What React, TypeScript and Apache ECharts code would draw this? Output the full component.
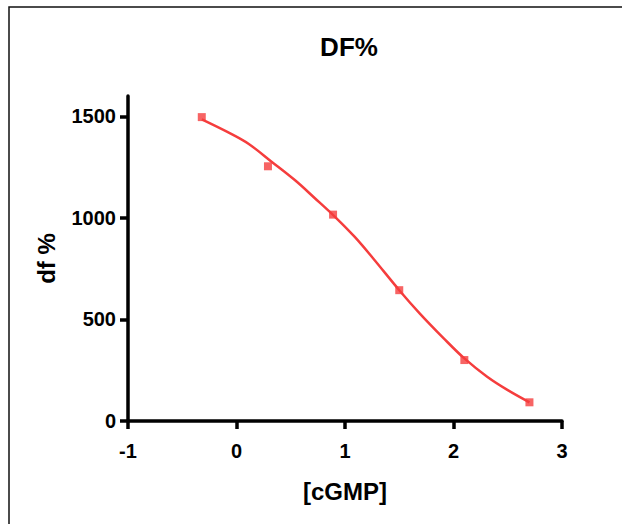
import React, { useEffect, useRef } from "react";
import * as echarts from "echarts";

// Measured data points: log[cGMP] vs df %
const pointX = [-0.32, 0.29, 0.89, 1.5, 2.1, 2.7];
const pointY = [1496, 1254, 1016, 644, 300, 92];

// Fitted curve
const curveX = [-0.32, -0.08, 0.11, 0.32, 0.54, 0.72, 0.91, 1.09, 1.26, 1.5, 1.69, 1.91, 2.1, 2.31, 2.5, 2.7];
const curveY = [1485, 1422, 1365, 1278, 1185, 1098, 1004, 906, 800, 644, 529, 407, 308, 218, 152, 92];

const yTicks = [0, 500, 1000, 1500];
const xTicks = [-1, 0, 1, 2, 3];

const RED = "#F53D3D";
const FONT = "Liberation Sans, Arial, sans-serif";

export default function App() {
  const ref = useRef<HTMLDivElement>(null);
  useEffect(() => {
    if (!ref.current) return;
    const chart = echarts.init(ref.current, undefined, { renderer: "svg" });
    const lineStyle = { color: "#000", width: 3.5 };
    chart.setOption({
      animation: false,
      backgroundColor: "#fff",
      title: {
        text: "DF%",
        left: 344,
        top: 29,
        textAlign: "center",
        textStyle: { fontFamily: FONT, fontWeight: "bold", fontSize: 26, color: "#000" },
      },
      grid: { left: 128, right: 60, top: 96, bottom: 103, containLabel: false },
      xAxis: {
        type: "value",
        min: -1,
        max: 3,
        interval: 1,
        splitLine: { show: false },
        axisLine: { show: true, onZero: false, lineStyle },
        axisTick: { show: true, length: 8, lineStyle, customValues: xTicks },
        axisLabel: {
          margin: 20,
          fontFamily: FONT,
          fontWeight: "bold",
          fontSize: 20,
          color: "#000",
          customValues: xTicks,
          formatter: (v: number) => String(v),
        },
        name: "[cGMP]",
        nameLocation: "middle",
        nameGap: 58,
        nameTextStyle: { fontFamily: FONT, fontWeight: "bold", fontSize: 24, color: "#000" },
      },
      yAxis: {
        type: "value",
        min: 0,
        max: 1600,
        interval: 500,
        splitLine: { show: false },
        axisLine: { show: true, onZero: false, lineStyle },
        axisTick: { show: true, length: 8, lineStyle, customValues: yTicks },
        axisLabel: {
          margin: 12,
          fontFamily: FONT,
          fontWeight: "bold",
          fontSize: 20,
          color: "#000",
          customValues: yTicks,
          formatter: (v: number) => String(v),
        },
        name: "df %",
        nameLocation: "middle",
        nameGap: 70,
        nameRotate: 90,
        nameTextStyle: { fontFamily: FONT, fontWeight: "bold", fontSize: 24, color: "#000" },
      },
      graphic: [
        {
          type: "rect",
          shape: { x: 9, y: 7, width: 800, height: 700 },
          style: { fill: "none", stroke: "#111", lineWidth: 1.5 },
          silent: true,
        },
      ],
      series: [
        {
          type: "line",
          data: curveX.map((x, i) => [x, curveY[i]]),
          smooth: 0.35,
          showSymbol: false,
          symbol: "none",
          lineStyle: { color: RED, width: 2.5 },
          z: 2,
        },
        {
          type: "scatter",
          data: pointX.map((x, i) => [x, pointY[i]]),
          symbol: "rect",
          symbolSize: 8,
          itemStyle: { color: RED },
          z: 3,
        },
      ],
    });
    return () => chart.dispose();
  }, []);
  return (
    <div
      ref={ref}
      style={{ position: "fixed", left: 0, top: 0, width: 622, height: 524, background: "#fff" }}
    />
  );
}
